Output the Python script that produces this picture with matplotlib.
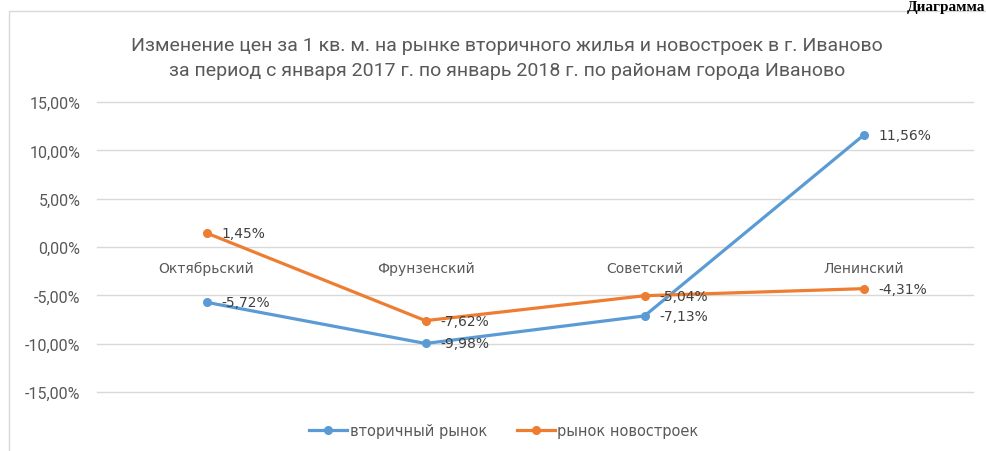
import matplotlib
matplotlib.use("Agg")
import matplotlib.pyplot as plt
from matplotlib.patches import Rectangle
from matplotlib.ticker import FuncFormatter

# Data: price change per 1 sq. m, Jan 2017 -> Jan 2018, by district of Ivanovo
districts = ["Октябрьский", "Фрунзенский", "Советский", "Ленинский"]
secondary = [-5.72, -9.98, -7.13, 11.56]
new_build = [1.45, -7.62, -5.04, -4.31]
series_names = ["вторичный рынок", "рынок новостроек"]
y_ticks = [-15, -10, -5, 0, 5, 10, 15]
title = ("Изменение цен за 1 кв. м. на рынке вторичного жилья и новостроек в г. Иваново\n"
         "за период с января 2017 г. по январь 2018 г. по районам города Иваново")

BLUE = "#5B9BD5"
ORANGE = "#ED7D31"
TXT = "#595959"
GRID = "#D9D9D9"
NARROW = "Roboto"
BODY = "DejaVu Sans"

W, H = 986, 452
fig = plt.figure(figsize=(W / 100, H / 100), dpi=100)
fig.patch.set_facecolor("white")

# outer chart frame
fig.patches.append(Rectangle((9 / W, -0.05), 1.2, 1 - 12 / H + 0.05,
                             transform=fig.transFigure, fill=False,
                             edgecolor="#D9D9D9", linewidth=1.0))

# heading above the chart frame
fig.text(985 / W, 1 - 0.5 / H, "Диаграмма", family=["Liberation Serif", "DejaVu Serif"],
         fontweight="bold", fontstyle="normal", fontsize=11, ha="right", va="top",
         color="black")

ax = fig.add_axes([97 / W, 1 - 393 / H, (973 - 97) / W, (393 - 103) / H])
x = list(range(len(districts)))

ax.set_xlim(-0.5, len(districts) - 0.5)
ax.set_ylim(-15, 15)
ax.set_yticks(y_ticks)
ax.yaxis.set_major_formatter(FuncFormatter(lambda v, p: f"{v:.2f}%".replace(".", ",")))
ax.grid(axis="y", color=GRID, linewidth=1.0)
for gl in ax.get_ygridlines():
    gl.set_clip_on(False)
ax.set_axisbelow(True)
for s in ax.spines.values():
    s.set_visible(False)
ax.spines["bottom"].set_position(("data", 0))
ax.set_xticks(x)
ax.set_xticklabels(districts, family=BODY, fontsize=10, color=TXT)
ax.tick_params(axis="x", length=0, pad=10)
ax.tick_params(axis="y", length=0, pad=12, labelcolor=TXT, labelsize=11.5)
for lbl in ax.get_yticklabels():
    lbl.set_family(NARROW)

l1, = ax.plot(x, secondary, color=BLUE, linewidth=2.3, marker="o", markersize=5.5,
              label=series_names[0], solid_joinstyle="round")
l2, = ax.plot(x, new_build, color=ORANGE, linewidth=2.3, marker="o", markersize=5.5,
              label=series_names[1], solid_joinstyle="round")

for vals in (secondary, new_build):
    for xi, v in zip(x, vals):
        ax.annotate(f"{v:.2f}%".replace(".", ","), (xi, v), xytext=(11, 0),
                    textcoords="offset points", ha="left", va="center",
                    fontsize=10, family=BODY, color="#404040")

fig.text(507 / W, 1 - 58.5 / H, title, ha="center", va="center", fontsize=14,
         family=NARROW, color=TXT, linespacing=1.55)

leg = fig.legend(handles=[l1, l2], loc="center", bbox_to_anchor=(504 / W, 1 - 432 / H),
                 ncol=2, frameon=False, prop={"family": BODY, "size": 10.5},
                 handlelength=2.6, handletextpad=0.2, columnspacing=2.0)
for t in leg.get_texts():
    t.set_color(TXT)

fig.savefig("out.png", dpi=100, facecolor="white")
